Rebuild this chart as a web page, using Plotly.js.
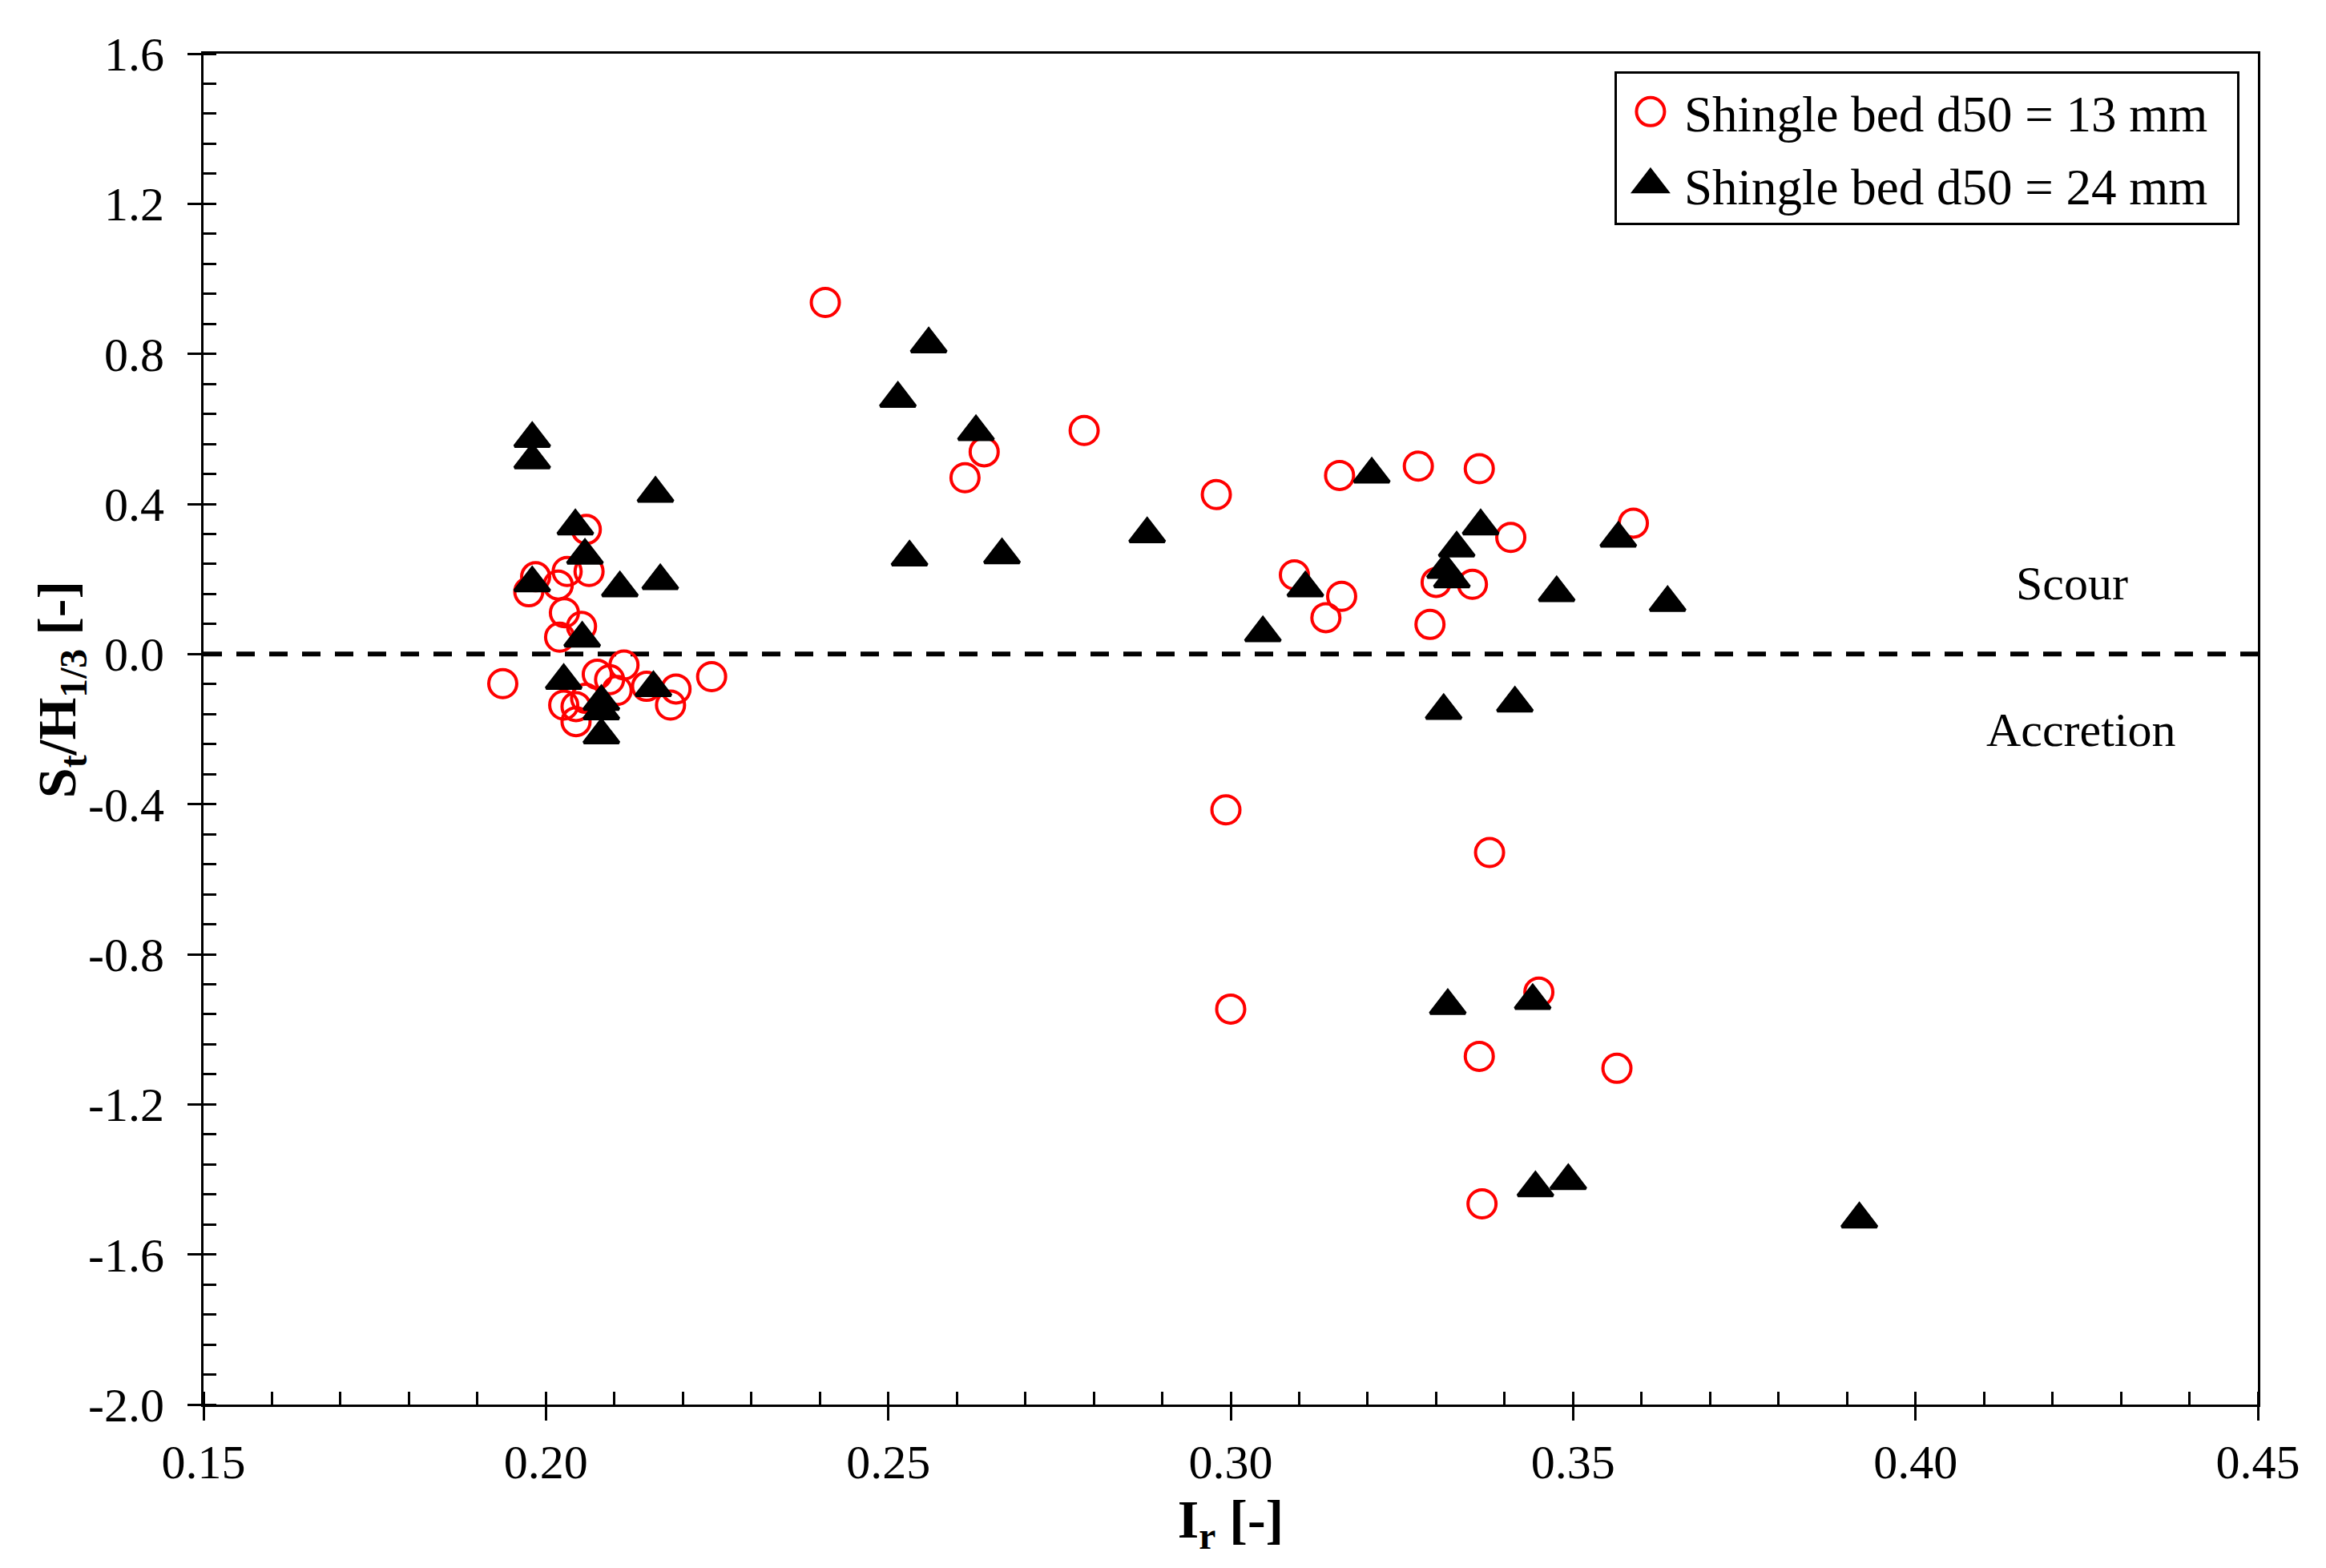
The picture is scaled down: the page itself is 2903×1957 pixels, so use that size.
<!DOCTYPE html>
<html>
<head>
<meta charset="utf-8">
<script src="https://cdn.plot.ly/plotly-3.0.1.min.js"></script>
<style>
    html, body { margin: 0; padding: 0; background: #fff; }
    #plot_area { width: 2903px; height: 1957px; }
</style>
</head>
<body>
<div id="plot_area"></div>
<script>
// Shingle bed d50 = 13 mm (red open circles)
const fineIr = [
    0.2059, 0.2063, 0.2031, 0.1985, 0.1975, 0.2018, 0.2027, 0.2052, 0.2020, 0.1937,
    0.2114, 0.2075, 0.2093, 0.2104, 0.2147, 0.2190, 0.2182, 0.2242, 0.2026, 0.2044,
    0.2044, 0.2058,
    0.2408, 0.2640, 0.2612, 0.2786,
    0.2979, 0.3159, 0.3274, 0.3363, 0.3409, 0.3300, 0.3353, 0.3093, 0.3162, 0.3139,
    0.3291, 0.3588,
    0.2993, 0.3378, 0.3000, 0.3450, 0.3363, 0.3564, 0.3367
];
const fineSt = [
    0.332, 0.220, 0.220, 0.206, 0.166, 0.184, 0.110, 0.074, 0.045, -0.079,
    -0.029, -0.054, -0.068, -0.097, -0.086, -0.093, -0.136, -0.060, -0.136, -0.140,
    -0.180, -0.118,
    0.937, 0.539, 0.470, 0.596,
    0.425, 0.476, 0.501, 0.494, 0.311, 0.191, 0.186, 0.211, 0.154, 0.097,
    0.079, 0.349,
    -0.415, -0.529, -0.946, -0.901, -1.072, -1.104, -1.465
];

// Shingle bed d50 = 24 mm (black filled triangles)
const coarseIr = [
    0.1980, 0.1980, 0.2160, 0.2043, 0.2057, 0.1980, 0.2108, 0.2167, 0.2053, 0.2026,
    0.2157, 0.2081, 0.2081, 0.2081,
    0.2559, 0.2514, 0.2628, 0.2531, 0.2666, 0.2878,
    0.3206, 0.3365, 0.3330, 0.3313, 0.3323, 0.3476, 0.3109, 0.3047, 0.3566, 0.3638,
    0.3311, 0.3415,
    0.3317, 0.3441, 0.3445, 0.3493, 0.3918
];
const coarseSt = [
    0.574, 0.517, 0.428, 0.341, 0.263, 0.189, 0.176, 0.195, 0.042, -0.071,
    -0.090, -0.127, -0.152, -0.216,
    0.826, 0.681, 0.592, 0.258, 0.264, 0.320,
    0.479, 0.341, 0.282, 0.225, 0.200, 0.163, 0.176, 0.056, 0.308, 0.137,
    -0.151, -0.131,
    -0.937, -0.924, -1.423, -1.404, -1.506
];

// Scour / accretion boundary
const zeroLineX = [0.15, 0.45];
const zeroLineY = [0, 0];

// Axis ticks
const xRange = [0.15, 0.45];
const yRange = [-2.0, 1.6];
const yTickVals = [-2.0, -1.6, -1.2, -0.8, -0.4, 0.0, 0.4, 0.8, 1.2, 1.6];
const yTickText = ['-2.0', '-1.6', '-1.2', '-0.8', '-0.4', '0.0', '0.4', '0.8', '1.2', '1.6'];

const serif = 'Liberation Serif, Times New Roman, serif';

const traces = [
    {
        x: zeroLineX,
        y: zeroLineY,
        mode: 'lines',
        type: 'scatter',
        line: { color: 'black', width: 6, dash: '23px,18px' },
        showlegend: false,
        hoverinfo: 'skip'
    },
    {
        x: fineIr,
        y: fineSt,
        mode: 'markers',
        type: 'scatter',
        name: 'Shingle bed d50 = 13 mm\u00a0\u00a0',
        legendgroup: 'fine',
        marker: {
            symbol: 'circle-open',
            size: 35,
            color: '#ff0000',
            line: { color: '#ff0000', width: 4 }
        }
    },
    {
        x: coarseIr,
        y: coarseSt,
        mode: 'markers',
        type: 'scatter',
        name: 'Shingle bed d50 = 24 mm\u00a0\u00a0',
        legendgroup: 'coarse',
        marker: {
            symbol: 'triangle-up',
            size: 38,
            color: 'black',
            line: { color: 'black', width: 4 }
        }
    }
];

const axisCommon = {
    showgrid: false,
    zeroline: false,
    linecolor: 'black',
    linewidth: 3,
    ticks: 'outside',
    ticklen: 17,
    tickwidth: 3,
    tickcolor: 'black',
    tickfont: { family: serif, size: 60, color: 'black' }
};

const layout = {
    width: 2903,
    height: 1957,
    margin: { t: 67, l: 254, r: 85, b: 204 },
    paper_bgcolor: 'white',
    plot_bgcolor: 'white',
    font: { family: serif, color: 'black' },
    xaxis: Object.assign({}, axisCommon, {
        range: xRange,
        dtick: 0.05,
        tick0: 0.15,
        tickformat: '.2f',
        showline: true,
        mirror: true,
        minor: { dtick: 0.01, ticks: 'inside', ticklen: 16, tickwidth: 3, tickcolor: 'black', showgrid: false },
        title: { text: '<b>I<sub>r</sub> [-]</b>', font: { family: serif, size: 68, color: 'black' }, standoff: 8 },
        automargin: false
    }),
    yaxis: Object.assign({}, axisCommon, {
        range: yRange,
        tickmode: 'array',
        tickvals: yTickVals,
        ticktext: yTickText,
        ticklabelstandoff: 17,
        showline: true,
        mirror: true,
        minor: { dtick: 0.08, tick0: -2.0, ticks: 'inside', ticklen: 16, tickwidth: 3, tickcolor: 'black', showgrid: false },
        automargin: false
    }),
    // overlay axes only to give the major ticks their inner half
    xaxis2: {
        overlaying: 'x', anchor: 'y', side: 'bottom', range: xRange, dtick: 0.05, tick0: 0.15,
        ticks: 'inside', ticklen: 16, tickwidth: 3, tickcolor: 'black',
        showticklabels: false, showline: false, showgrid: false, zeroline: false
    },
    yaxis2: {
        overlaying: 'y', anchor: 'x', side: 'left', range: yRange, tickmode: 'array', tickvals: yTickVals,
        ticks: 'inside', ticklen: 16, tickwidth: 3, tickcolor: 'black',
        showticklabels: false, showline: false, showgrid: false, zeroline: false
    },
    legend: {
        x: 0.991, y: 0.987, xanchor: 'right', yanchor: 'top',
        bgcolor: 'white',
        bordercolor: 'black',
        borderwidth: 3,
        font: { family: serif, size: 63, color: 'black' },
        itemsizing: 'trace',
        itemwidth: 74,
        traceorder: 'grouped',
        tracegroupgap: 6
    },
    annotations: [
        // y title placed by hand: the reference sits it a little above the plot middle
        { x: -0.0698, y: 0.529, xref: 'paper', yref: 'paper', xanchor: 'center', yanchor: 'middle',
          textangle: -90, showarrow: false,
          text: '<b>S<sub>t</sub>/H<sub>1/3</sub> [-]</b>',
          font: { family: serif, size: 68, color: 'black' } },
        { x: 0.4229, y: 0.1885, xref: 'x', yref: 'y', text: 'Scour', showarrow: false,
          font: { family: serif, size: 60, color: 'black' } },
        { x: 0.4242, y: -0.202, xref: 'x', yref: 'y', text: 'Accretion', showarrow: false,
          font: { family: serif, size: 60, color: 'black' } }
    ],
    showlegend: true
};

// dummy trace so the overlay axes get drawn
traces.push({ x: xRange, y: yRange, xaxis: 'x2', yaxis: 'y2', mode: 'markers', type: 'scatter',
    marker: { opacity: 0 }, showlegend: false, hoverinfo: 'skip' });

Plotly.newPlot('plot_area', traces, layout, { displayModeBar: false, staticPlot: true }).then(gd => {
    // plotly caps legend symbols at 16px; grow them to the plotted marker size
    const legendScale = [35 / 16, 38 / 16];
    gd.querySelectorAll('.legend .traces').forEach((item, i) => {
        const k = legendScale[i] || 1;
        item.querySelectorAll('.legendpoints path').forEach(path => {
            const t = path.getAttribute('transform') || '';
            path.setAttribute('transform', t + ' scale(' + k + ')');
            path.style.strokeWidth = (i === 0 ? 4 : 3) / k + 'px';
        });
    });
});
</script>
</body>
</html>
